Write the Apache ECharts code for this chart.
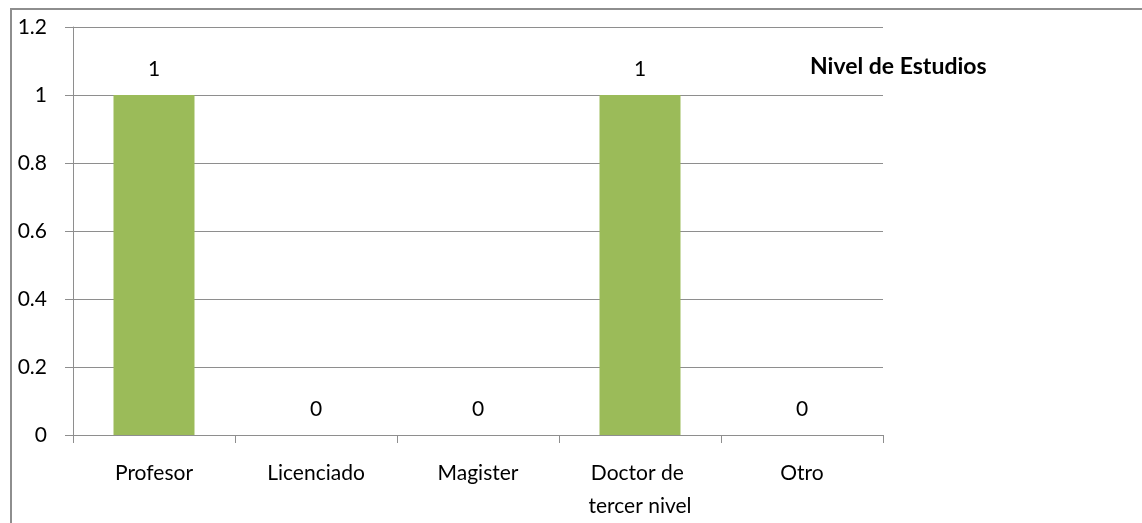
<!DOCTYPE html>
<html>
<head>
<meta charset="utf-8">
<script src="https://cdn.jsdelivr.net/npm/echarts@6/dist/echarts.min.js"></script>
<style>
  html, body { margin: 0; padding: 0; background: #fff; }
  #frame {
    position: absolute; left: 10px; top: 8px; width: 1200px; height: 600px;
    border-left: 2px solid #8e8e8e; border-top: 2px solid #8e8e8e;
  }
  #chart { position: absolute; left: 0; top: 0; width: 1142px; height: 523px; }
</style>
</head>
<body>
<div id="frame"></div>
<div id="chart"></div>
<script>
// datos del grafico
var categories = ['Profesor', 'Licenciado', 'Magister', 'Doctor de tercer nivel', 'Otro'];
var values = [1, 0, 0, 1, 0];
var seriesName = 'Nivel de Estudios';

var chartObj = echarts.init(document.getElementById('chart'));
var font = 'Lato, "Open Sans", sans-serif';

var option = {
  animation: false,
  textStyle: { fontFamily: font },
  title: {
    text: seriesName,
    left: 805, top: 50,
    textStyle: { fontSize: 23, fontWeight: 'bold', color: '#000', fontFamily: font }
  },
  grid: { left: 73, right: 259, top: 27, bottom: 82 },
  xAxis: {
    type: 'category',
    data: categories,
    axisTick: { show: true, length: 8, lineStyle: { color: '#8e8e8e' } },
    axisLine: { lineStyle: { color: '#8e8e8e', width: 1 } },
    axisLabel: {
      color: '#000', fontSize: 21, margin: 22, lineHeight: 33,
      width: 130, overflow: 'break', interval: 0
    }
  },
  yAxis: {
    type: 'value',
    min: 0, max: 1.2, interval: 0.2,
    axisLine: { show: true, lineStyle: { color: '#8e8e8e', width: 1 } },
    axisTick: { show: true, length: 8, lineStyle: { color: '#8e8e8e' } },
    axisLabel: {
      color: '#000', fontSize: 21, margin: 26,
      formatter: function (v) { return String(Math.round(v * 10) / 10); }
    },
    splitLine: { lineStyle: { color: '#8e8e8e', width: 1 } }
  },
  series: [{
    name: seriesName,
    type: 'bar',
    barWidth: '50%',
    itemStyle: { color: '#9bbb59' },
    label: {
      show: true, position: 'top', color: '#000', fontSize: 21, distance: 15
    },
    data: values
  }]
};
chartObj.setOption(option);
</script>
</body>
</html>
